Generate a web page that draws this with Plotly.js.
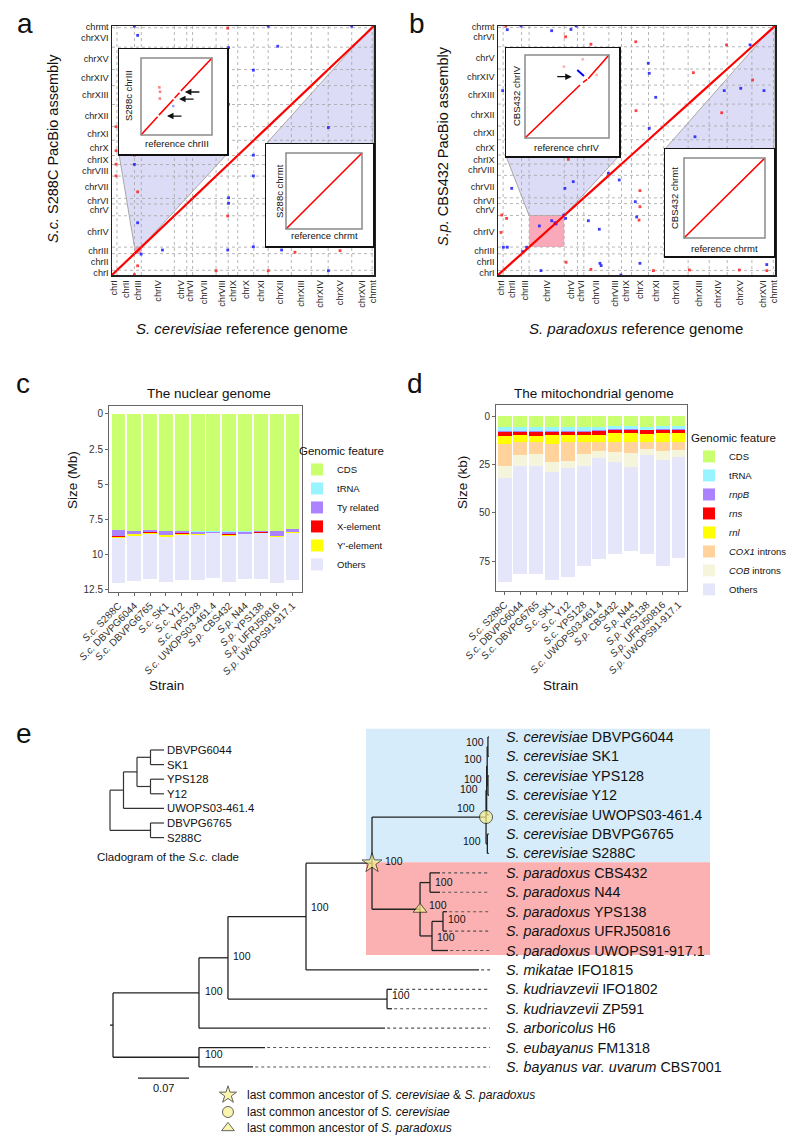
<!DOCTYPE html>
<html><head><meta charset="utf-8">
<script src="https://cdn.plot.ly/plotly-3.0.1.min.js"></script>
<style>html,body{margin:0;padding:0;background:#fff}#chart{width:800px;height:1145px}</style>
</head><body><div id="chart"></div>
<script>
const FONT = 'Liberation Sans, Arial, Helvetica, sans-serif';
const W = 800, H = 1145;

// ---------------- Panel a / b data (Mb) ----------------
const chromNames = ['chrI','chrII','chrIII','chrIV','chrV','chrVI','chrVII','chrVIII','chrIX','chrX','chrXI','chrXII','chrXIII','chrXIV','chrXV','chrXVI','chrmt'];
const scRefSizes = [0.230,0.813,0.317,1.532,0.577,0.270,1.091,0.563,0.440,0.746,0.667,1.078,0.924,0.784,1.091,0.948,0.086];
const scAsmSizes = [0.230,0.813,0.317,1.532,0.577,0.270,1.091,0.563,0.440,0.746,0.667,1.078,0.924,0.784,1.091,0.948,0.086];
const spRefSizes = [0.220,0.794,0.324,1.512,0.571,0.273,1.079,0.544,0.431,0.731,0.656,1.050,0.909,0.773,1.063,0.926,0.069];
const spAsmSizes = [0.220,0.794,0.324,1.512,0.571,0.273,1.079,0.544,0.431,0.731,0.656,1.050,0.909,0.773,1.063,0.926,0.069];
const spAsmLabels = ['chrI','chrII','chrIII','chrIV','chrV','chrVI','chrVII','chrVIII','chrIX','chrX','chrXI','chrXII','chrXIII','chrXIV','chrV','chrVI','chrmt'];

const aRedX = [5.37,5.41,0.19,0.19,0.19,0.19,1.04,1.19,5.37,8.49,10.58,1.19,4.83,7.25,1.04];
const aRedY = [12.05,8.33,7.24,6.07,5.41,4.84,5.85,4.06,2.88,1.11,1.19,0.45,0.21,0.21,0.02];
const aBlueX = [1.04,7.25,11.12,1.19,5.41,7.69,6.56,1.04,1.19,6.56,6.56,5.41,5.41,2.34,5.37,6.56,7.87,1.35,10.04,10.04];
const aBlueY = [12.15,12.15,12.15,11.7,11.1,11.17,10.0,5.4,2.55,5.85,4.84,3.77,3.5,1.22,1.22,1.38,1.22,1.02,0.21,7.2];

const bRedX = [0.34,2.91,5.93,4.0,9.84,8.41,10.96,5.94,9.63,3.03,6.11,6.11,6.07,0.16,0.37,0.13,2.93,4.0,6.69,11.57,10.39,8.24];
const bRedY = [11.93,11.41,11.17,11.05,11.02,9.69,9.34,7.87,7.77,5.54,4.04,3.27,2.63,2.87,2.71,2.04,0.61,0.27,0.21,0.21,0.24,0.24];
const bBlueX = [0.4,0.99,2.31,3.14,3.36,10.85,6.47,6.51,10.45,11.45,9.74,0.2,6.79,8.48,6.51,4.75,5.22,2.88,0.59,5.91,5.97,3.89,4.36,0.23,0.4,4.39,4.44,6.11,5.29,11.57,1.85,2.31,1.78,1.06,1.23,2.83,2.91,3.24,2.45,2.5];
const bBlueY = [11.75,11.93,11.70,11.76,11.93,11.02,10.14,9.66,8.94,8.83,8.83,8.83,8.51,6.62,7.02,4.87,4.55,4.15,4.15,3.51,2.78,2.6,2.19,1.33,1.33,0.56,0.45,0.56,0.0,0.5,0.21,2.6,2.35,1.12,1.33,2.87,2.71,4.47,2.5,2.45];

// insets (kb)
const a1Len = 317, a2Len = 86, b1Len = 1512, b2Len = 69;
const a1RefStart = [0,80,150,178], a1RefEnd = [74,145,172,317];
const a1AsmStart = [0,82,152,181], a1AsmEnd = [75,146,174,317];
const a1RedX = [85,84,82], a1RedY = [178,150,196];
const a1BlueX = [144], a1BlueY = [119];
const a1ArrowX = [116,170,196], a1ArrowY = [78,148,177];
const b1RefStart = [0,1045,1136], b1RefEnd = [990,1117,1512];
const b1AsmStart = [0,1015,1080], b1AsmEnd = [965,1069,1512];
const b1InvRef = [941,1062], b1InvAsm = [1239,1129];
const b1DotX = [1290,1038,700], b1DotY = [1148,1434,1300];
const b1ArrowX = [841], b1ArrowY = [1117];

// ---------------- Panel c / d data ----------------
const strainSpecies = ['S.c.','S.c.','S.c.','S.c.','S.c.','S.c.','S.c.','S.p.','S.p.','S.p.','S.p.','S.p.'];
const strainNames = ['S288C','DBVPG6044','DBVPG6765','SK1','Y12','YPS128','UWOPS03-461.4','CBS432','N44','YPS138','UFRJ50816','UWOPS91-917.1'];
const nucFeatures = ['CDS','tRNA','Ty related','X-element',"Y'-element",'Others'];
const nucCDS    = [8.29,8.36,8.29,8.36,8.33,8.38,8.38,8.38,8.38,8.36,8.33,8.21];
const nucTRNA   = [0.02,0.02,0.02,0.02,0.02,0.02,0.02,0.02,0.02,0.02,0.02,0.02];
const nucTy     = [0.40,0.19,0.14,0.24,0.17,0.17,0.08,0.20,0.15,0.07,0.34,0.17];
const nucX      = [0.04,0.03,0.03,0.04,0.03,0.03,0.03,0.03,0.02,0.03,0.04,0.03];
const nucYp     = [0.12,0.10,0.08,0.14,0.07,0.05,0.02,0.06,0.02,0.04,0.05,0.07];
const nucOthers = [3.23,3.20,3.20,3.22,3.21,3.21,3.16,3.29,3.17,3.24,3.32,3.33];
const mitoFeatures = ['CDS','tRNA','<i>rnpB</i>','<i>rns</i>','<i>rnl</i>','<i>COX1</i> introns','<i>COB</i> introns','Others'];
const mitoCDS    = [5.7,5.7,5.7,5.7,5.7,5.7,5.7,5.4,5.4,5.7,5.4,5.4];
const mitoTRNA   = [2.3,2.3,2.3,2.3,2.3,2.3,1.6,1.4,1.4,1.4,1.4,1.4];
const mitoRnpB   = [0.3,0.3,0.3,0.3,0.3,0.3,0.3,0.3,0.3,0.3,0.3,0.3];
const mitoRns    = [1.9,1.7,1.9,1.7,1.7,1.7,2.2,1.9,1.9,1.9,1.9,1.9];
const mitoRnl    = [4.3,3.5,3.3,4.5,3.5,3.5,3.7,4.5,4.5,4.2,4.5,4.5];
const mitoCOX1   = [11.4,6.4,6.2,9.1,9.6,6.2,4.8,5.1,5.5,3.8,4.5,4.2];
const mitoCOB    = [6.0,5.7,5.9,5.2,4.0,6.0,3.6,5.4,7.2,3.1,4.8,3.4];
const mitoOthers = [54.1,56.0,56.3,56.1,56.0,51.9,52.3,47.6,43.8,51.1,54.8,52.4];

// ---------------- Panel e data ----------------
const tipSpecies = ['S. cerevisiae','S. cerevisiae','S. cerevisiae','S. cerevisiae','S. cerevisiae','S. cerevisiae','S. cerevisiae',
  'S. paradoxus','S. paradoxus','S. paradoxus','S. paradoxus','S. paradoxus','S. mikatae','S. kudriavzevii','S. kudriavzevii','S. arboricolus','S. eubayanus','S. bayanus var. uvarum'];
const tipStrains = ['DBVPG6044','SK1','YPS128','Y12','UWOPS03-461.4','DBVPG6765','S288C','CBS432','N44','YPS138','UFRJ50816','UWOPS91-917.1','IFO1815','IFO1802','ZP591','H6','FM1318','CBS7001'];
const tipParent = [14,14,15,15,12,16,16,8,8,10,10,9,4,11,11,1,2,2];
const tipDepth  = [0.5158,0.5158,0.5158,0.5158,0.5158,0.5158,0.5158,0.4488,0.4488,0.4584,0.4584,0.4598,0.5023,0.3829,0.3829,0.3733,0.2086,0.1922];
//                root  A     Eu    B      C      D      Sc    Sp     SpCN   SpF    SpG    Kud    Sc1    Sc2    Sc3    Sc4    Sc5
const nodeParent  = [-1,  0,    0,    1,     3,     4,     5,    5,     7,     7,     9,     3,     6,     12,    13,    13,    6];
const nodeDepth   = [0,   0.118,0.118,0.1578,0.2649,0.3555,0.512,0.4214,0.4351,0.4378,0.4529,0.3761,0.5128,0.5136,0.5146,0.5146,0.5138];
const nodeSupport = [null,100,  100,  100,   100,   100,   100,  100,   100,   100,   100,   100,   100,   100,   100,   100,   100];
const cladoTips = ['DBVPG6044','SK1','YPS128','Y12','UWOPS03-461.4','DBVPG6765','S288C'];
const cladoTopology = [[[[0,1],[2,3]],4],[5,6]];
const scaleBarLength = 0.07;

// ---------------- helpers ----------------
const xd = (a,b)=>[a/W,b/W];
const yd = (t,b)=>[1-b/H,1-t/H];
const cum = a => a.reduce((acc,v)=>{acc.push(acc[acc.length-1]+v);return acc;},[0]);
const mids = a => { const c=cum(a); return a.map((v,i)=>c[i]+v/2); };
const total = a => a.reduce((s,v)=>s+v,0);
const traces = [];
const shapes = [];
const ann = [];
function txt(text,xpx,ypx,size,opts){ ann.push(Object.assign({text:text,x:xpx/W,y:1-ypx/H,xref:'paper',yref:'paper',showarrow:false,
  font:{size:size,family:FONT,color:'#111'},xanchor:'center',yanchor:'middle'},opts||{})); }
function lineTrace(X,Y,xa,ya,line){ return {type:'scatter',mode:'lines',x:X,y:Y,xaxis:xa,yaxis:ya,line:line,hoverinfo:'skip',showlegend:false,connectgaps:false}; }
function dotTrace(X,Y,xa,ya,color,size,op){ return {type:'scatter',mode:'markers',x:X,y:Y,xaxis:xa,yaxis:ya,marker:{color:color,size:size||2.8,symbol:'square',opacity:op||0.85,line:{width:0}},hoverinfo:'skip',showlegend:false,cliponaxis:true}; }
function gridTrace(refS,asmS,xa,ya){
  const rb=cum(refS), ab=cum(asmS), X=[], Y=[], rt=total(refS), at=total(asmS);
  rb.slice(1,-1).forEach(b=>{X.push(b,b,null);Y.push(0,at,null);});
  ab.slice(1,-1).forEach(b=>{X.push(0,rt,null);Y.push(b,b,null);});
  return lineTrace(X,Y,xa,ya,{color:'#a4a4a4',width:0.8,dash:'dot'});
}
function segTrace(rs,re,as_,ae,xa,ya,color,width){
  const X=[],Y=[]; rs.forEach((s,i)=>{X.push(s,re[i],null);Y.push(as_[i],ae[i],null);});
  return lineTrace(X,Y,xa,ya,{color:color,width:width});
}
function mapX(v,domPx,rng){ return domPx[0]+(v-rng[0])/(rng[1]-rng[0])*(domPx[1]-domPx[0]); }
function mapY(v,domPx,rng){ return domPx[1]-(v-rng[0])/(rng[1]-rng[0])*(domPx[1]-domPx[0]); }
const P = (x,y)=>(x/W).toFixed(5)+','+(1-y/H).toFixed(5);
function insetRangeX(outer,inner,vmax){ const k=vmax/(inner[1]-inner[0]); return [-(inner[0]-outer[0])*k, vmax+(outer[1]-inner[1])*k]; }
function insetRangeY(outer,inner,vmax){ const k=vmax/(inner[1]-inner[0]); return [-(outer[1]-inner[1])*k, vmax+(inner[0]-outer[0])*k]; }

// ---------------- geometry (pixels) ----------------
const aXpx=[112,374], aYpx=[26,275];
const bXpx=[498,775], bYpx=[26,275];
const a1Out={x:[119,227],y:[49,154]}, a1In={x:[141,212],y:[58,135]};
const a2Out={x:[266,373],y:[144,246]}, a2In={x:[286,362],y:[153,229]};
const b1Out={x:[506,619],y:[48,156]}, b1In={x:[525,609],y:[55,138]};
const b2Out={x:[665,774],y:[149,256]}, b2In={x:[684,765],y:[158,238]};

const scRefT=total(scRefSizes), scAsmT=total(scAsmSizes), spRefT=total(spRefSizes), spAsmT=total(spAsmSizes);

// ---------------- panel a traces ----------------
traces.push(gridTrace(scRefSizes,scAsmSizes,'x','y'));
traces.push(dotTrace(aBlueX,aBlueY,'x','y','#1a1aff'));
traces.push(dotTrace(aRedX,aRedY,'x','y','#ff2020'));
(function(){ const rb=cum(scRefSizes), ab=cum(scAsmSizes);
  traces.push(segTrace(rb.slice(0,-1),rb.slice(1),ab.slice(0,-1),ab.slice(1),'x','y','#ff0000',2.2)); })();
// ---------------- panel b traces ----------------
traces.push(gridTrace(spRefSizes,spAsmSizes,'x2','y2'));
traces.push(dotTrace(bBlueX,bBlueY,'x2','y2','#1a1aff'));
traces.push(dotTrace(bRedX,bRedY,'x2','y2','#ff2020'));
(function(){ const rb=cum(spRefSizes), ab=cum(spAsmSizes);
  traces.push(segTrace(rb.slice(0,-1),rb.slice(1),ab.slice(0,-1),ab.slice(1),'x2','y2','#ff0000',2.2)); })();

// insets
traces.push(segTrace(a1RefStart,a1RefEnd,a1AsmStart,a1AsmEnd,'x3','y3','#ff0000',1.6));
traces.push(dotTrace(a1RedX,a1RedY,'x3','y3','#ff4040',2.5,0.7));
traces.push(dotTrace(a1BlueX,a1BlueY,'x3','y3','#6060ff',2.5,0.6));
traces.push(segTrace([0],[a2Len],[0],[a2Len],'x4','y4','#ff0000',1.6));
traces.push(segTrace(b1RefStart,b1RefEnd,b1AsmStart,b1AsmEnd,'x5','y5','#ff0000',1.6));
traces.push(segTrace([b1InvRef[0]],[b1InvRef[1]],[b1InvAsm[0]],[b1InvAsm[1]],'x5','y5','#0000ff',2));
traces.push(dotTrace(b1DotX,b1DotY,'x5','y5','#ff6060',2.5,0.5));
traces.push(segTrace([0],[b2Len],[0],[b2Len],'x6','y6','#ff0000',1.6));

// ---------------- panel c / d bars ----------------
const strainIdx = strainNames.map((s,i)=>i);
const strainTicks = strainNames.map((s,i)=>'<i>'+strainSpecies[i]+'</i> '+s);
const nucSeries = [nucCDS,nucTRNA,nucTy,nucX,nucYp,nucOthers];
const nucColors = ['#caff70','#98f5ff','#ab82ff','#ff0000','#ffff00','#e6e6fa'];
nucSeries.forEach((v,k)=>traces.push({type:'bar',x:strainIdx,y:v,name:nucFeatures[k],marker:{color:nucColors[k],line:{width:0}},
  xaxis:'x7',yaxis:'y7',legend:'legend',hoverinfo:'skip'}));
const mitoSeries = [mitoCDS,mitoTRNA,mitoRnpB,mitoRns,mitoRnl,mitoCOX1,mitoCOB,mitoOthers];
const mitoColors = ['#caff70','#98f5ff','#ab82ff','#ff0000','#ffff00','#ffd39b','#f5f5dc','#e6e6fa'];
mitoSeries.forEach((v,k)=>traces.push({type:'bar',x:strainIdx,y:v,name:mitoFeatures[k],marker:{color:mitoColors[k],line:{width:0}},
  xaxis:'x8',yaxis:'y8',legend:'legend2',hoverinfo:'skip'}));

// ---------------- panel e tree ----------------
const nNodes = nodeParent.length;
const kids = Array.from({length:nNodes},()=>[]);
nodeParent.forEach((p,i)=>{ if(p>=0) kids[p].push({t:'n',i:i}); });
tipParent.forEach((p,i)=>kids[p].push({t:'t',i:i}));
const nodeY = new Array(nNodes);
function yOf(c){ return c.t==='t'? c.i : calcY(c.i); }
function calcY(i){ if(nodeY[i]!==undefined) return nodeY[i]; const ys=kids[i].map(yOf); nodeY[i]=(Math.min(...ys)+Math.max(...ys))/2; return nodeY[i]; }
calcY(0);
const tipAlign = 0.5175;
const tX=[], tY=[];
function seg(x0,y0,x1,y1){ tX.push(x0,x1,null); tY.push(y0,y1,null); }
for(let i=0;i<nNodes;i++){
  const ys=kids[i].map(yOf);
  seg(nodeDepth[i],Math.min(...ys),nodeDepth[i],Math.max(...ys));
  kids[i].forEach(c=>{ const d=c.t==='t'?tipDepth[c.i]:nodeDepth[c.i]; seg(nodeDepth[i],yOf(c),d,yOf(c)); });
}
seg(nodeDepth[0]-0.004,nodeY[0],nodeDepth[0],nodeY[0]);
const dX=[], dY=[];
tipDepth.forEach((d,i)=>{ if(d<tipAlign-0.003){ dX.push(d+0.003,tipAlign,null); dY.push(i,i,null);} });
shapes.push({type:'rect',xref:'x9',yref:'y9',x0:0.3472,x1:0.8194,y0:-0.42,y1:6.45,fillcolor:'#d6ecfa',line:{width:0},layer:'below'});
shapes.push({type:'rect',xref:'x9',yref:'y9',x0:0.3472,x1:0.8194,y0:6.45,y1:11.23,fillcolor:'#fbb1b1',line:{width:0},layer:'below'});
traces.push(lineTrace(dX,dY,'x9','y9',{color:'#555',width:1.1,dash:'dot'}));
traces.push(lineTrace(tX,tY,'x9','y9',{color:'#222',width:1.3}));
const ancFill = '#f8f08a';
traces.push({type:'scatter',mode:'markers',x:[nodeDepth[5],nodeDepth[6],nodeDepth[7]],y:[nodeY[5],nodeY[6],nodeY[7]],xaxis:'x9',yaxis:'y9',
  marker:{symbol:['star','circle','triangle-up'],size:[15,13,12],color:ancFill,line:{color:'#222',width:1}},hoverinfo:'skip',showlegend:false,cliponaxis:false});
const keyRows=[18.44,19.32,20.14];
traces.push({type:'scatter',mode:'markers',x:[0.1578,0.1578,0.1578],y:keyRows,xaxis:'x9',yaxis:'y9',
  marker:{symbol:['star','circle','triangle-up'],size:[13,11,11],color:ancFill,line:{color:'#222',width:1}},hoverinfo:'skip',showlegend:false,cliponaxis:false});
const keyTexts=['last common ancestor of <i>S. cerevisiae</i> &amp; <i>S. paradoxus</i>','last common ancestor of <i>S. cerevisiae</i>','last common ancestor of <i>S. paradoxus</i>'];
keyTexts.forEach((t,i)=>ann.push({text:t,x:0.1812,y:keyRows[i],xref:'x9',yref:'y9',xanchor:'left',yanchor:'middle',showarrow:false,font:{size:12,family:FONT,color:'#111'}}));
traces.push(lineTrace([0.0343,0.0343+scaleBarLength],[17.57,17.57],'x9','y9',{color:'#222',width:1.3}));
ann.push({text:String(scaleBarLength),x:0.0343+scaleBarLength/2,y:18.07,xref:'x9',yref:'y9',showarrow:false,font:{size:11,family:FONT,color:'#111'}});
tipSpecies.forEach((sp,i)=>ann.push({text:'<i>'+sp+'</i> '+tipStrains[i],x:0.5366,y:i,xref:'x9',yref:'y9',xanchor:'left',yanchor:'middle',showarrow:false,font:{size:14.3,family:FONT,color:'#111'}}));
const supXShift=[0,4,4,3,3,11,-9,7,3,3,3,3,-7,-3,-2,-4,-4];
const supYShift=[0,2,3,2,10,2,9,4,1,-1,2,4,1,7,5,7,3];
nodeSupport.forEach((s,i)=>{ if(s===null) return; ann.push({text:String(s),x:nodeDepth[i],y:nodeY[i],xref:'x9',yref:'y9',
  xanchor:supXShift[i]<0?'right':'left',yanchor:'middle',xshift:supXShift[i],yshift:supYShift[i],showarrow:false,font:{size:10.5,family:FONT,color:'#111'}}); });

// cladogram
function cHeight(n){ return typeof n==='number'?0:1+Math.max(...n.map(cHeight)); }
const cladoTipLevel = cHeight(cladoTopology);
const cX=[], cY=[];
function layoutClado(n){
  if(typeof n==='number') return {x:cladoTipLevel,y:n};
  const ch=n.map(layoutClado), x=cladoTipLevel-cHeight(n), ys=ch.map(c=>c.y);
  cX.push(x,x,null); cY.push(Math.min(...ys),Math.max(...ys),null);
  ch.forEach(c=>{cX.push(x,c.x,null); cY.push(c.y,c.y,null);});
  return {x:x,y:(Math.min(...ys)+Math.max(...ys))/2};
}
layoutClado(cladoTopology);
traces.push(lineTrace(cX,cY,'x10','y10',{color:'#333',width:1.2}));
cladoTips.forEach((t,i)=>ann.push({text:t,x:cladoTipLevel,y:i,xref:'x10',yref:'y10',xanchor:'left',yanchor:'middle',xshift:1,showarrow:false,font:{size:11.3,family:FONT,color:'#111'}}));

// ---------------- shapes: highlights & connectors ----------------
const aRngX=[0,scRefT], aRngY=[0,scAsmT], bRngX=[0,spRefT], bRngY=[0,spAsmT];
const scRB=cum(scRefSizes), scAB=cum(scAsmSizes), spRB=cum(spRefSizes), spAB=cum(spAsmSizes);
function connector(out, cx0, cx1, cyTop, fromTop){
  const ey = fromTop? out.y[0] : out.y[1];
  return {type:'path',xref:'paper',yref:'paper',layer:'below',fillcolor:'rgba(185,185,240,0.5)',line:{color:'#a8a8a8',width:1},
    path:'M'+P(out.x[0],ey)+' L'+P(cx0,cyTop)+' L'+P(cx1,cyTop)+' L'+P(out.x[1],ey)+' Z'};
}
shapes.push(connector(a1Out, mapX(scRB[2],aXpx,aRngX), mapX(scRB[3],aXpx,aRngX), mapY(scAB[3],aYpx,aRngY), false));
shapes.push(connector(a2Out, mapX(scRB[16],aXpx,aRngX), mapX(scRB[17],aXpx,aRngX), mapY(scAB[17],aYpx,aRngY), true));
shapes.push({type:'rect',xref:'x',yref:'y',x0:scRB[2],x1:scRB[3],y0:scAB[2],y1:scAB[3],fillcolor:'#f6a0b2',line:{width:0},layer:'below'});
shapes.push(connector(b1Out, mapX(spRB[3],bXpx,bRngX), mapX(spRB[4],bXpx,bRngX), mapY(spAB[4],bYpx,bRngY), false));
shapes.push(connector(b2Out, mapX(spRB[16],bXpx,bRngX), mapX(spRB[17],bXpx,bRngX), mapY(spAB[17],bYpx,bRngY), true));
shapes.push({type:'rect',xref:'x2',yref:'y2',x0:spRB[3],x1:spRB[4],y0:spAB[3],y1:spAB[4],fillcolor:'#f9a9b9',line:{width:0},layer:'below'});
[['x3','y3',a1Len],['x4','y4',a2Len],['x5','y5',b1Len],['x6','y6',b2Len]].forEach(f=>shapes.push({type:'rect',xref:f[0],yref:f[1],x0:0,x1:f[2],y0:0,y1:f[2],line:{color:'#8a8a8a',width:1.5},fillcolor:'rgba(0,0,0,0)',layer:'above'}));

a1ArrowX.forEach((x,i)=>ann.push({x:x,y:a1ArrowY[i],xref:'x3',yref:'y3',ax:16,ay:0,text:'',showarrow:true,arrowhead:2,arrowsize:1,arrowwidth:1.3,arrowcolor:'#111'}));
b1ArrowX.forEach((x,i)=>ann.push({x:x,y:b1ArrowY[i],xref:'x5',yref:'y5',ax:-16,ay:0,text:'',showarrow:true,arrowhead:2,arrowsize:1,arrowwidth:1.3,arrowcolor:'#111'}));

// ---------------- text ----------------
txt('a',25,24,28); txt('b',417,24,28); txt('c',23,383,28); txt('d',415,384,28); txt('e',24,733,28);
txt('<i>S. cerevisiae</i> reference genome',242.5,328,15);
txt('<i>S. paradoxus</i> reference genome',636,328,15);
txt('<i>S.c.</i> S288C PacBio assembly',53,149,14.5,{textangle:-90});
txt('<i>S.p.</i> CBS432 PacBio assembly',443,146,14.5,{textangle:-90});
txt('S288c chrIII',128,96,9.5,{textangle:-90}); txt('reference chrIII',176.5,143,9.5);
txt('S288c chrmt',279,191,9.5,{textangle:-90}); txt('reference chrmt',324,235,9.5);
txt('CBS432 chrIV',516,96,9.5,{textangle:-90}); txt('reference chrIV',567,147,9.5);
txt('CBS432 chrmt',674,198,9.5,{textangle:-90}); txt('reference chrmt',724,248,9.5);
txt('The nuclear genome',209,394,13.5); txt('The mitochondrial genome',594,394,13.5);
txt('Size (Mb)',72,480,13.5,{textangle:-90}); txt('Size (kb)',462,483,13.5,{textangle:-90});
txt('Strain',166,685,13.5); txt('Strain',560,685,13.5);
txt('Cladogram of the <i>S.c.</i> clade',168,857,11.5);

// ---------------- axes ----------------
const chrAxis = {showline:true,mirror:true,linecolor:'#222',linewidth:1.5,ticks:'',showgrid:false,zeroline:false,fixedrange:true,tickfont:{size:9.2,family:FONT,color:'#222'}};
const insetAxis = {showline:true,mirror:true,linecolor:'#111',linewidth:1.5,ticks:'',showticklabels:false,showgrid:false,zeroline:false,fixedrange:true};
const barAxis = {showline:true,mirror:true,linecolor:'#666',linewidth:1,ticks:'outside',ticklen:3,tickcolor:'#666',showgrid:false,zeroline:false,fixedrange:true,tickfont:{size:10,family:FONT,color:'#333'}};
const hidden = {visible:false,fixedrange:true,showgrid:false,zeroline:false};

const layout = {
  width:W,height:H,margin:{l:0,r:0,t:0,b:0,pad:0},paper_bgcolor:'#fff',plot_bgcolor:'#fff',
  font:{family:FONT,size:10,color:'#111'},barmode:'stack',bargap:0.12,hovermode:false,showlegend:true,
  xaxis: Object.assign({},chrAxis,{domain:xd(...aXpx),range:aRngX,tickvals:mids(scRefSizes),ticktext:chromNames,tickangle:-90,anchor:'y'}),
  yaxis: Object.assign({},chrAxis,{domain:yd(...aYpx),range:aRngY,tickvals:mids(scAsmSizes),ticktext:chromNames,anchor:'x'}),
  xaxis2: Object.assign({},chrAxis,{domain:xd(...bXpx),range:bRngX,tickvals:mids(spRefSizes),ticktext:chromNames,tickangle:-90,anchor:'y2'}),
  yaxis2: Object.assign({},chrAxis,{domain:yd(...bYpx),range:bRngY,tickvals:mids(spAsmSizes),ticktext:spAsmLabels,anchor:'x2'}),
  xaxis3: Object.assign({},insetAxis,{domain:xd(...a1Out.x),range:insetRangeX(a1Out.x,a1In.x,a1Len),anchor:'y3'}),
  yaxis3: Object.assign({},insetAxis,{domain:yd(...a1Out.y),range:insetRangeY(a1Out.y,a1In.y,a1Len),anchor:'x3'}),
  xaxis4: Object.assign({},insetAxis,{domain:xd(...a2Out.x),range:insetRangeX(a2Out.x,a2In.x,a2Len),anchor:'y4'}),
  yaxis4: Object.assign({},insetAxis,{domain:yd(...a2Out.y),range:insetRangeY(a2Out.y,a2In.y,a2Len),anchor:'x4'}),
  xaxis5: Object.assign({},insetAxis,{domain:xd(...b1Out.x),range:insetRangeX(b1Out.x,b1In.x,b1Len),anchor:'y5'}),
  yaxis5: Object.assign({},insetAxis,{domain:yd(...b1Out.y),range:insetRangeY(b1Out.y,b1In.y,b1Len),anchor:'x5'}),
  xaxis6: Object.assign({},insetAxis,{domain:xd(...b2Out.x),range:insetRangeX(b2Out.x,b2In.x,b2Len),anchor:'y6'}),
  yaxis6: Object.assign({},insetAxis,{domain:yd(...b2Out.y),range:insetRangeY(b2Out.y,b2In.y,b2Len),anchor:'x6'}),
  xaxis7: Object.assign({},barAxis,{domain:xd(109,302),range:[-0.6,11.6],tickvals:strainIdx,ticktext:strainTicks,tickangle:-45,anchor:'y7'}),
  yaxis7: Object.assign({},barAxis,{domain:yd(406,592),range:[12.71,-0.57],tickvals:[0,2.5,5,7.5,10,12.5],ticktext:['0','2.5','5','7.5','10','12.5'],anchor:'x7'}),
  xaxis8: Object.assign({},barAxis,{domain:xd(496,687),range:[-0.54,11.54],tickvals:strainIdx,ticktext:strainTicks,tickangle:-45,anchor:'y8'}),
  yaxis8: Object.assign({},barAxis,{domain:yd(405,591),range:[90.5,-5.7],tickvals:[0,25,50,75],anchor:'x8'}),
  xaxis9: Object.assign({},hidden,{domain:[0,1],range:[-0.1551,0.9429],anchor:'y9'}),
  yaxis9: Object.assign({},hidden,{domain:yd(700,1145),range:[21.02,-1.906],anchor:'x9'}),
  xaxis10: Object.assign({},hidden,{domain:xd(100,260),range:[-0.7407,11.111],anchor:'y10'}),
  yaxis10: Object.assign({},hidden,{domain:yd(738,850),range:[6.849,-0.822],anchor:'x10'}),
  legend: {x:297/W,y:1-440/H,xanchor:'left',yanchor:'top',traceorder:'normal',bgcolor:'rgba(0,0,0,0)',
    title:{text:'Genomic feature',font:{size:11.5,family:FONT,color:'#111'}},font:{size:9.5,family:FONT,color:'#111'},itemclick:false,itemdoubleclick:false},
  legend2: {x:689/W,y:1-427/H,xanchor:'left',yanchor:'top',traceorder:'normal',bgcolor:'rgba(0,0,0,0)',
    title:{text:'Genomic feature',font:{size:11.5,family:FONT,color:'#111'}},font:{size:9.5,family:FONT,color:'#111'},itemclick:false,itemdoubleclick:false},
  shapes:shapes, annotations:ann
};
Plotly.newPlot('chart',traces,layout,{displayModeBar:false,staticPlot:true});
</script></body></html>
